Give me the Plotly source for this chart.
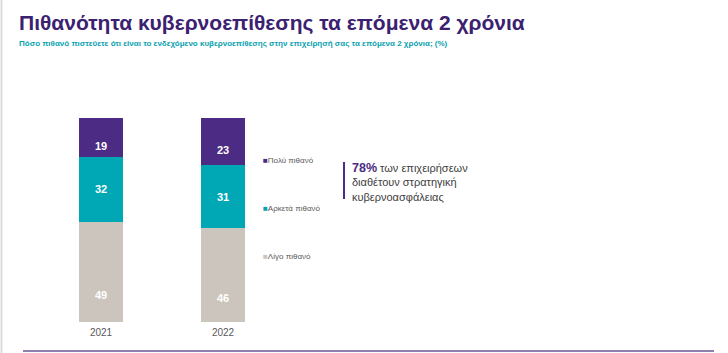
import plotly.graph_objects as go

years = ["2021", "2022"]
series_names = ["Λίγο πιθανό", "Αρκετά πιθανό", "Πολύ πιθανό"]
low = [49, 46]
medium = [32, 31]
high = [19, 23]
series_values = [low, medium, high]
colors = ["#cbc5bd", "#00a7b5", "#4b2b83"]
label_shift = [-23, 0, -9]

title = "Πιθανότητα κυβερνοεπίθεσης τα επόμενα 2 χρόνια"
subtitle = "Πόσο πιθανό πιστεύετε ότι είναι το ενδεχόμενο κυβερνοεπίθεσης στην επιχείρησή σας τα επόμενα 2 χρόνια; (%)"

FONT = "Liberation Sans, Arial, sans-serif"

fig = go.Figure()
for name, vals, col in zip(series_names, series_values, colors):
    fig.add_trace(go.Bar(x=list(range(len(years))), y=vals, name=name, marker=dict(color=col, line=dict(width=0)),
                         width=0.36, showlegend=False, hoverinfo="skip"))

annotations = []
# data labels
for si, vals in enumerate(series_values):
    for xi, yr in enumerate(years):
        base = sum(series_values[k][xi] for k in range(si))
        annotations.append(dict(x=xi, y=base + vals[xi] / 2, xref="x", yref="y", text=f"<b>{vals[xi]}</b>",
                                showarrow=False, yshift=label_shift[si],
                                font=dict(family=FONT, size=11, color="white")))

# legend as annotations (top to bottom)
legend_y = [160, 208, 256]
for name, col, py in zip(reversed(series_names), reversed(colors), legend_y):
    annotations.append(dict(x=261 / 728, y=1 - py / 353, xref="paper", yref="paper", xanchor="left", yanchor="middle",
                            text=f"<span style='color:{col}'>■</span>{name}", showarrow=False,
                            font=dict(family=FONT, size=8, color="#595959")))

# callout text
annotations.append(dict(x=350 / 728, y=1 - 182 / 353, xref="paper", yref="paper", xanchor="left", yanchor="middle",
                        align="left", showarrow=False,
                        text="<span style='color:#4b2b83;font-size:12.5px'><b>78%</b></span> των επιχειρήσεων<br>διαθέτουν στρατηγική<br>κυβερνοασφάλειας",
                        font=dict(family=FONT, size=11, color="#404040")))

# title & subtitle
annotations.append(dict(x=17 / 728, y=1 - 23 / 353, xref="paper", yref="paper", xanchor="left", yanchor="middle",
                        text=f"<b>{title}</b>", showarrow=False,
                        font=dict(family=FONT, size=21, color="#3b2170")))
annotations.append(dict(x=17 / 728, y=1 - 43 / 353, xref="paper", yref="paper", xanchor="left", yanchor="middle",
                        text=f"<b>{subtitle}</b>", showarrow=False,
                        font=dict(family=FONT, size=8, color="#0aa2b0")))

shapes = [
    dict(type="line", xref="paper", yref="paper", x0=344 / 728, x1=344 / 728, y0=1 - 162 / 353, y1=1 - 199 / 353,
         line=dict(color="#4b2b83", width=2)),
    dict(type="line", xref="paper", yref="paper", x0=23 / 728, x1=714 / 728, y0=1 - 351 / 353, y1=1 - 351 / 353,
         line=dict(color="#8f7fb0", width=2)),
    dict(type="line", xref="paper", yref="paper", x0=1.5 / 728, x1=1.5 / 728, y0=0, y1=1,
         line=dict(color="#dcdcdc", width=2)),
]

fig.update_layout(
    barmode="stack",
    width=728, height=353,
    margin=dict(l=0, r=0, t=0, b=0),
    paper_bgcolor="white", plot_bgcolor="white",
    annotations=annotations, shapes=shapes,
    xaxis=dict(domain=[40 / 728, 284 / 728], range=[-0.5, 1.5], showgrid=False, showline=False, zeroline=False,
               ticks="", tickmode="array", tickvals=list(range(len(years))), ticktext=years,
               ticklabelstandoff=3,
               tickfont=dict(family=FONT, size=10, color="#595959")),
    yaxis=dict(domain=[31 / 353, 235 / 353], range=[0, 100], showgrid=False, showline=False, zeroline=False,
               showticklabels=False, ticks=""),
    font=dict(family=FONT),
)

fig.write_html("out.html")
